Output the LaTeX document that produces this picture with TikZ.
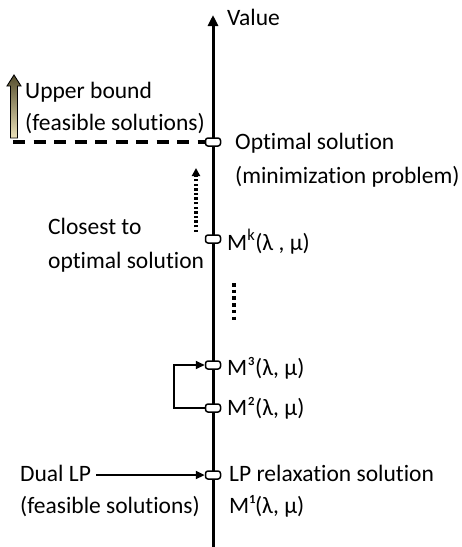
\documentclass[tikz,border=0pt]{standalone}
\usepackage{fontspec}
\setmainfont[Ligatures={NoCommon}]{Carlito}
\usetikzlibrary{arrows.meta}
\begin{document}
\begin{tikzpicture}[x=1pt,y=-1pt,
  tick/.style={draw=black,line width=1.5pt,fill=white,rounded corners=2.5pt,minimum width=15pt,minimum height=8pt,inner sep=0pt},
  lbl/.style={anchor=base west,inner sep=0pt,font=\fontsize{23.5}{28}\selectfont},
  axisline/.style={line width=3pt},
  conn/.style={line width=1.8pt}]
\useasboundingbox (0,0) rectangle (462,547);
% axis
\coordinate (abot) at (213,547);
\coordinate (atop) at (213,15);
\draw[axisline,-{Triangle[width=10pt,length=11pt]}] (abot) -- (atop);
% ticks
\node[tick] (opt) at (213,142) {};
\node[tick] (mk) at (213,239) {};
\node[tick] (m3) at (213,365) {};
\node[tick] (m2) at (213,408) {};
\node[tick] (lp) at (213,475) {};
% labels
\node[lbl] (val) at (227,25) {Value};
\node[lbl] (ub1) at (25,98) {Upper bound};
\node[lbl] (ub2) at (25,130) {(feasible solutions)};
\node[lbl] (os1) at (235,149) {Optimal solution};
\node[lbl] (os2) at (235,183) {(minimization problem)};
\node[lbl] (cl1) at (48,234) {Closest to};
\node[lbl] (cl2) at (48,268) {optimal solution};
\node[lbl] (mkl) at (227,250) {M\textsuperscript{k}(λ , μ)};
\node[lbl] (m3l) at (227,375) {M³(λ, μ)};
\node[lbl] (m2l) at (227,415) {M²(λ, μ)};
\node[lbl] (dl1) at (20,481) {Dual LP};
\node[lbl] (dl2) at (20,513) {(feasible solutions)};
\node[lbl] (lpl) at (229,481) {LP relaxation solution};
\node[lbl] (m1l) at (229,513) {M¹(λ, μ)};
% gradient block arrow
\shade[top color={rgb,255:red,85;green,78;blue,45},bottom color={rgb,255:red,235;green,225;blue,185},draw=black,line width=0.9pt]
  (10.5,138) -- (10.5,86) -- (7,86) -- (14,75) -- (21,86) -- (17.5,86) -- (17.5,138) -- cycle;
% dashed upper bound line
\coordinate (dstart) at (13,142);
\draw[line width=3.2pt,dash pattern=on 12pt off 8.5pt] (dstart) -- (opt.west);
% dotted arrow
\coordinate (dotA) at (196,232);
\coordinate (dotB) at (196,168);
\draw[line width=3.4pt,dash pattern=on 2.4pt off 2.2pt,-{Triangle[width=8pt,length=8pt]}] (dotA) -- (dotB);
% dotted vertical
\coordinate (vdA) at (234,283);
\coordinate (vdB) at (234,323);
\draw[line width=3.5pt,dash pattern=on 3.5pt off 3.2pt] (vdA) -- (vdB);
% feedback arrow
\draw[conn,-{Triangle[width=8pt,length=9pt]}] (m2.west) -- ++(-31,0) |- (m3.west);
% dual LP arrow
\coordinate (dlA) at (96,475);
\draw[line width=2.2pt,-{Triangle[width=8pt,length=9pt]}] (dlA) -- (lp.west);
\end{tikzpicture}
\end{document}
